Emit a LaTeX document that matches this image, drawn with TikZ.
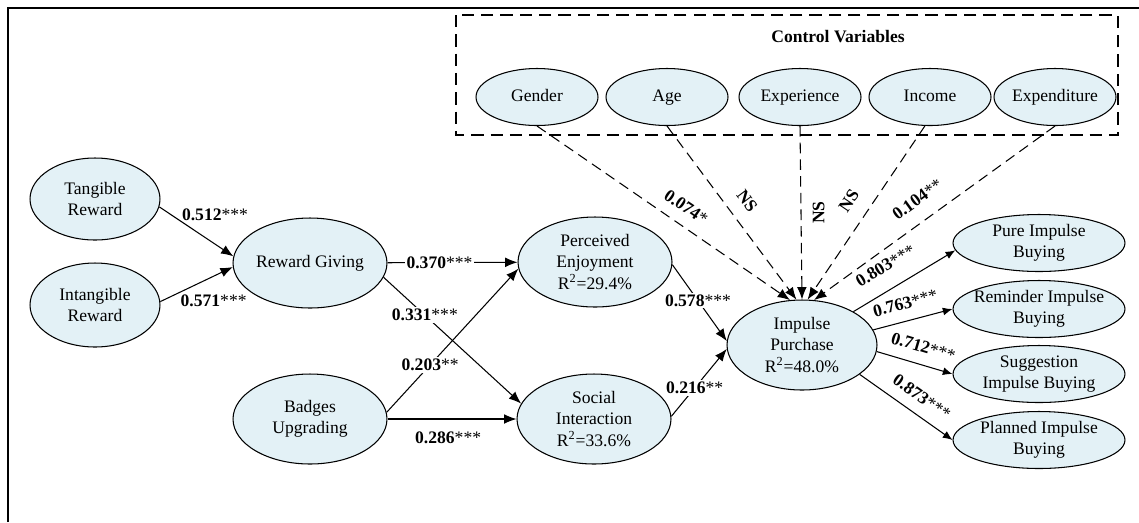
\documentclass[tikz,border=0pt]{standalone}
\usepackage{fontspec}
\setmainfont{Liberation Serif}
\usetikzlibrary{shapes.geometric,arrows.meta}
\definecolor{latfill}{RGB}{227,241,246}
\newcommand{\pcoef}[2]{\textbf{#1}#2}

\begin{document}
\begin{tikzpicture}[x=0.02cm,y=-0.02cm,
      latent/.style={ellipse,draw,fill=latfill,line width=0.6pt,inner sep=0pt,align=center,
        minimum width=3.08cm,minimum height=1.8cm},
      ctrl/.style={latent,minimum width=2.44cm,minimum height=1.14cm,inner xsep=-1pt,
        text height=1.6ex,text depth=0.4ex},
      dim/.style={latent,minimum width=3.44cm,minimum height=1.14cm,inner xsep=-8pt},
      arr/.style={line width=0.6pt,-{Latex[length=7pt,width=5.5pt]}},
      smarr/.style={line width=0.6pt,-{Latex[length=5.5pt,width=4.5pt]}},
      ctrlarr/.style={arr,dash pattern=on 6pt off 3.5pt},
      onln/.style={fill=white,inner sep=1pt}]
      \useasboundingbox (0,0) rectangle (1139,522);
      % frame
      \draw[line width=0.8pt] (8,522) -- (8,8) -- (1139,8);

      % control variables
      \draw[line width=0.6pt,dash pattern=on 7pt off 4pt] (456,15) rectangle (1118,135);
      \node[font=\bfseries] (CVtitle) at (838,37) {Control Variables};
      \foreach \nm/\x/\txt in {Gen/537/Gender,Age/667/Age,Exp/800/Experience,Inc/930/Income,Expd/1055/Expenditure}
        \node[ctrl] (\nm) at (\x,97) {\txt};

      % constructs
      \node[latent,minimum width=2.6cm,minimum height=1.64cm] (TR) at (95,199) {Tangible\\Reward};
      \node[latent,minimum width=2.6cm,minimum height=1.68cm] (ITR) at (95,305) {Intangible\\Reward};
      \node[latent] (RG) at (310,263) {Reward Giving};
      \node[latent] (BU) at (310,419) {Badges\\Upgrading};
      \node[latent] (PE) at (595,262) {Perceived\\Enjoyment\\R\textsuperscript{2}=29.4\%};
      \node[latent] (SI) at (594,419) {Social\\Interaction\\R\textsuperscript{2}=33.6\%};
      \node[latent,minimum width=3cm] (IP) at (802,345) {Impulse\\Purchase\\R\textsuperscript{2}=48.0\%};
      \node[dim] (PIB) at (1039,243) {Pure Impulse\\Buying};
      \node[dim] (RIB) at (1039,309) {Reminder Impulse\\Buying};
      \node[dim] (SIB) at (1039,374) {Suggestion\\Impulse Buying};
      \node[dim] (PLB) at (1039,440) {Planned Impulse\\Buying};

      % paths
      \draw[arr] (TR.-7) -- node[pos=0.3,anchor=south west,inner sep=0pt] {\pcoef{0.512}{***}} (RG.175);
      \draw[arr] (ITR.3) -- node[pos=0.25,anchor=north west,inner sep=1pt] {\pcoef{0.571}{***}} (RG.183);
      \draw[arr] (RG) -- node[onln,pos=0.4] {\pcoef{0.370}{***}} (PE);
      \draw[arr] (RG.-11) -- node[onln,pos=0.3] {\pcoef{0.331}{***}} (SI.168);
      \draw[arr] (BU.5) -- node[onln,pos=0.33] {\pcoef{0.203}{**}} (PE.185);
      \draw[arr] (BU) -- node[pos=0.47,below=3.5pt] {\pcoef{0.286}{***}} (SI);
      \draw[arr] (PE.-2) -- node[onln,pos=0.47] {\pcoef{0.578}{***}} (IP.177);
      \draw[arr] (SI.2) -- node[onln,pos=0.42] {\pcoef{0.216}{**}} (IP.183);

      % second order
      \draw[smarr] (IP.33) -- node[pos=0.43,sloped,above=6pt] {\pcoef{0.803}{***}} (PIB.185);
      \draw[smarr] (IP.12) -- node[pos=0.46,sloped,above=3pt] {\pcoef{0.763}{***}} (RIB.west);
      \draw[smarr] (IP.-5) -- node[pos=0.55,sloped,above=3pt] {\pcoef{0.712}{***}} (SIB.west);
      \draw[smarr] (IP.-27) -- node[pos=0.56,sloped,above=3pt] {\pcoef{0.873}{***}} (PLB.west);

      % controls
      \draw[ctrlarr] (Gen.south) -- node[pos=0.55,sloped,above=3pt] {\pcoef{0.074}{*}} (IP.105);
      \draw[ctrlarr] (Age.south) -- node[pos=0.5,sloped,above=4pt] {\textbf{NS}} (IP.97);
      \draw[ctrlarr] (Exp.south) -- node[pos=0.5,rotate=90,below=3pt] {\textbf{NS}} (IP.90);
      \draw[ctrlarr] (Inc.260) -- node[pos=0.5,sloped,above=5pt] {\textbf{NS}} (IP.83);
      \draw[ctrlarr] (Expd.south) -- node[pos=0.52,sloped,above=5pt] {\pcoef{0.104}{**}} (IP.75);
\end{tikzpicture}
\end{document}
